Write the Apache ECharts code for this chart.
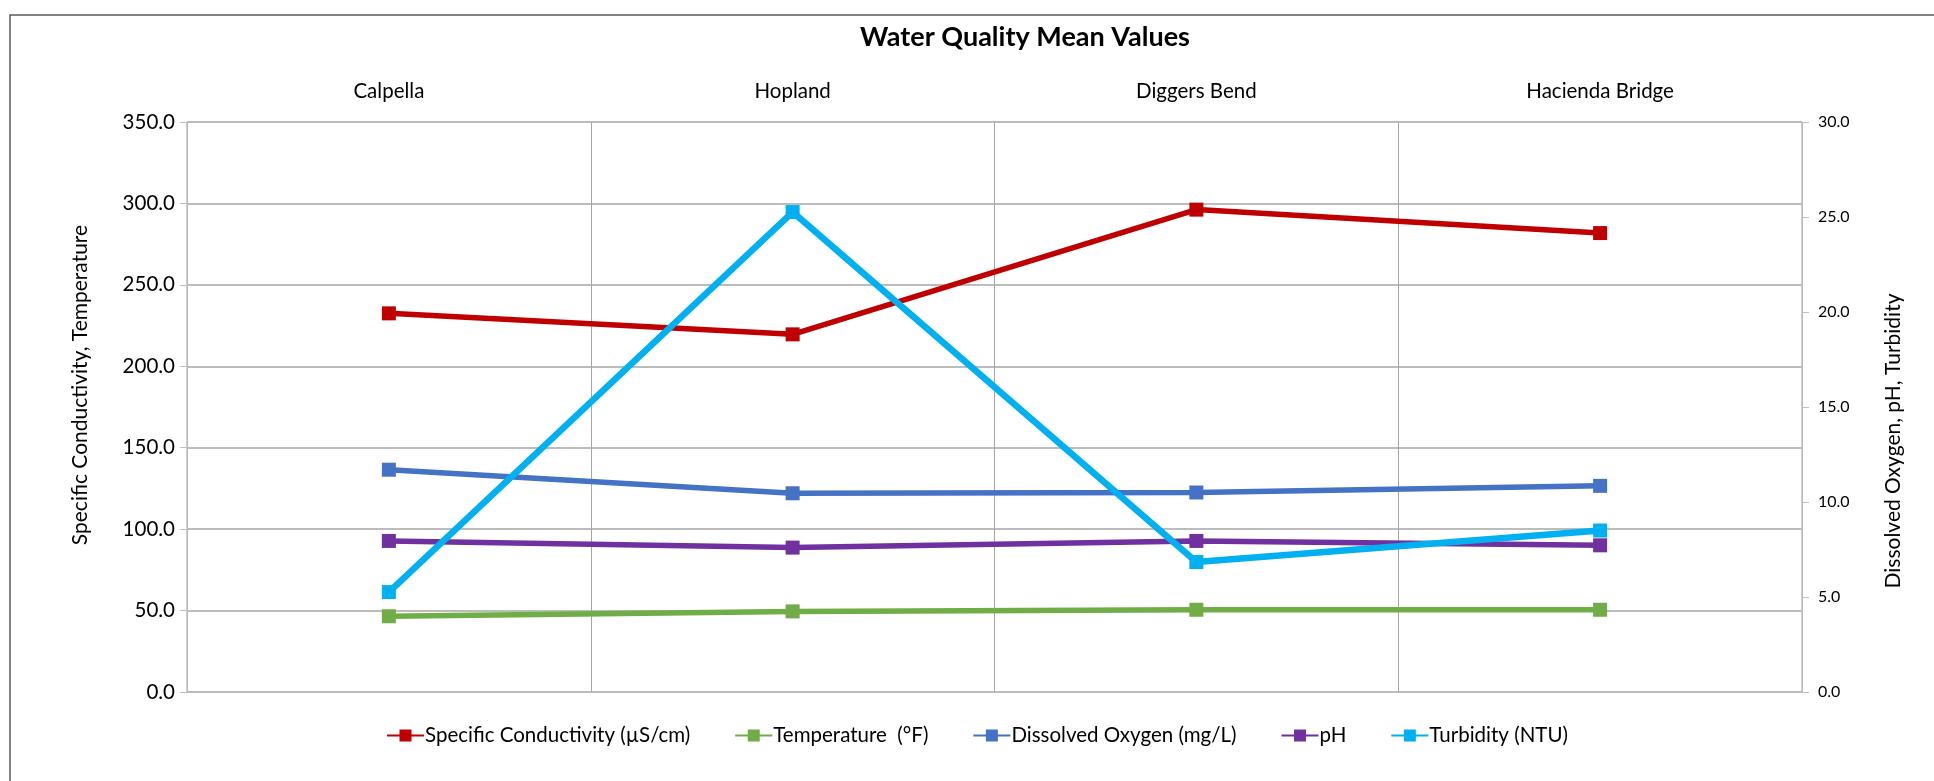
<!DOCTYPE html>
<html>
<head>
<meta charset="utf-8">
<title>Water Quality Mean Values</title>
<script src="https://cdn.jsdelivr.net/npm/echarts@6/dist/echarts.min.js"></script>
<style>
  html, body { margin: 0; padding: 0; background: #fff; }
  #main { width: 1934px; height: 781px; }
</style>
</head>
<body>
<div id="main"></div>
<script>
// sites along the river
const categories = ['Calpella', 'Hopland', 'Diggers Bend', 'Hacienda Bridge']

// left axis series
const conductivity = [232.5, 219.6, 296.2, 281.8]
const temperature = [46.5, 49.5, 50.5, 50.5]

// right axis series
const dissolvedOxygen = [11.7, 10.46, 10.5, 10.85]
const ph = [7.95, 7.6, 7.95, 7.72]
const turbidity = [5.26, 25.26, 6.84, 8.5]

const leftTicks = [0, 350, 50]
const rightTicks = [0, 30, 5]

const FONT = 'Lato, "Open Sans", sans-serif'

const myChart = echarts.init(document.getElementById('main'))

function lineSeries (name, data, color, axis, width) {
  return {
    name: name,
    type: 'line',
    yAxisIndex: axis,
    data: data,
    symbol: 'rect',
    symbolSize: 14,
    lineStyle: { color: color, width: width },
    itemStyle: { color: color },
    emphasis: { disabled: true }
  }
}

myChart.setOption({
  animation: false,
  textStyle: { fontFamily: FONT, color: '#000' },
  title: {
    text: 'Water Quality Mean Values',
    left: 1020,
    top: 19,
    textAlign: 'center',
    textStyle: { fontSize: 27, fontWeight: 'bold', color: '#000', fontFamily: FONT }
  },
  // chart frame + axis titles
  graphic: [
    {
      type: 'rect',
      shape: { x: 10, y: 15, width: 2000, height: 900 },
      style: { fill: 'none', stroke: '#595959', lineWidth: 1.5 },
      silent: true
    },
    {
      type: 'text',
      x: 80,
      y: 385,
      rotation: Math.PI / 2,
      style: {
        text: 'Specific Conductivity, Temperature',
        font: '21px ' + FONT,
        fill: '#000',
        align: 'center',
        verticalAlign: 'middle'
      }
    },
    {
      type: 'text',
      x: 1893,
      y: 441,
      rotation: Math.PI / 2,
      style: {
        text: 'Dissolved Oxygen, pH, Turbidity',
        font: '21px ' + FONT,
        fill: '#000',
        align: 'center',
        verticalAlign: 'middle'
      }
    }
  ],
  legend: {
    left: 381,
    top: 720,
    itemWidth: 37,
    itemHeight: 15,
    itemGap: 44,
    textStyle: { fontSize: 20.5, color: '#000', fontFamily: FONT, padding: [0, 0, 0, -4] },
    data: [
      'Specific Conductivity (µS/cm)',
      'Temperature  (°F)',
      'Dissolved Oxygen (mg/L)',
      'pH',
      'Turbidity (NTU)'
    ]
  },
  grid: {
    left: 187,
    right: 132,
    top: 122,
    bottom: 89
  },
  xAxis: {
    type: 'category',
    position: 'top',
    data: categories,
    boundaryGap: true,
    axisLine: { show: false },
    axisTick: { show: false },
    axisLabel: { fontSize: 20.5, color: '#000', margin: 20 },
    splitLine: { show: true, lineStyle: { color: '#a6a6a6', width: 1 } }
  },
  yAxis: [
    {
      type: 'value',
      min: leftTicks[0],
      max: leftTicks[1],
      interval: leftTicks[2],
      axisLine: { show: true, lineStyle: { color: '#bfbfbf', width: 1.5 } },
      axisTick: { show: true, length: 7, lineStyle: { color: '#bfbfbf' } },
      axisLabel: {
        fontSize: 20.5,
        color: '#000',
        margin: 12,
        formatter: v => v.toFixed(1)
      },
      splitLine: { show: true, lineStyle: { color: '#a6a6a6', width: 1.5 } }
    },
    {
      type: 'value',
      min: rightTicks[0],
      max: rightTicks[1],
      interval: rightTicks[2],
      axisLine: { show: true, lineStyle: { color: '#bfbfbf', width: 1.5 } },
      axisTick: { show: true, length: 7, lineStyle: { color: '#bfbfbf' } },
      axisLabel: {
        fontSize: 16,
        color: '#000',
        margin: 16,
        formatter: v => v.toFixed(1)
      },
      splitLine: { show: false }
    }
  ],
  series: [
    lineSeries('Specific Conductivity (µS/cm)', conductivity, '#C00000', 0, 5.5),
    lineSeries('Temperature  (°F)', temperature, '#70AD47', 0, 5.5),
    lineSeries('Dissolved Oxygen (mg/L)', dissolvedOxygen, '#4472C4', 1, 5.5),
    lineSeries('pH', ph, '#7030A0', 1, 5.5),
    lineSeries('Turbidity (NTU)', turbidity, '#00B0F0', 1, 6.5)
  ]
})

window.addEventListener('resize', () => {
  myChart.resize()
})
</script>
</body>
</html>
